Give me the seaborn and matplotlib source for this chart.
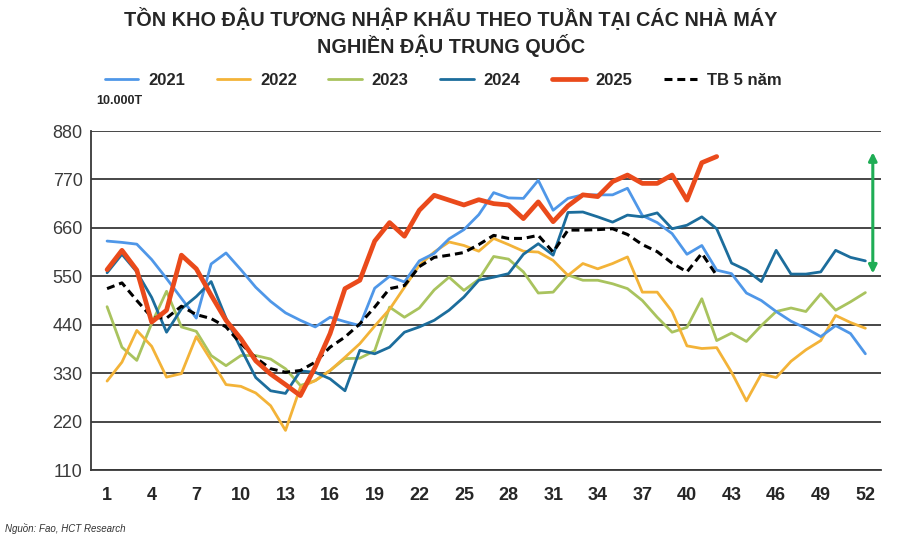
import pandas as pd
import matplotlib
matplotlib.use("Agg")
import matplotlib.pyplot as plt
import seaborn as sns

# tồn kho đậu tương theo tuần (đơn vị 10.000 tấn)
weeks = list(range(1, 53))
y2021 = [630, 627, 623, 588, 545, 500, 455, 578, 603, 565,
         525, 493, 467, 450, 435, 457, 447, 438, 523, 550,
         537, 585, 602, 635, 656, 690, 740, 728, 727, 768,
         700, 727, 735, 735, 735, 750, 688, 672, 647, 600,
         620, 564, 556, 512, 495, 470, 448, 432, 413, 438,
         420, 374]
y2022 = [312, 355, 427, 391, 321, 329, 413, 359, 304, 300,
         285, 256, 200, 298, 313, 336, 366, 397, 437, 475,
         525, 575, 605, 628, 620, 607, 636, 622, 607, 605,
         586, 552, 579, 567, 579, 594, 514, 514, 470, 392,
         386, 388, 332, 267, 328, 320, 357, 383, 404, 461,
         445, 432]
y2023 = [481, 389, 359, 443, 516, 435, 425, 370, 347, 370,
         370, 362, 340, 302, 313, 336, 363, 364, 381, 480,
         457, 478, 519, 548, 518, 543, 595, 589, 560, 512,
         514, 553, 541, 541, 533, 522, 495, 457, 423, 434,
         499, 404, 421, 402, 438, 470, 478, 470, 510, 473,
         492, 513]
y2024 = [558, 600, 560, 502, 423, 476, 504, 538, 455, 386,
         320, 290, 284, 335, 332, 317, 290, 382, 374, 389,
         423, 435, 450, 473, 503, 541, 548, 556, 600, 624,
         598, 695, 696, 685, 673, 689, 685, 694, 658, 666,
         685, 658, 580, 564, 538, 609, 555, 555, 560, 609,
         593, 585]
y2025 = [565, 609, 564, 446, 473, 598, 567, 507, 450, 408,
         358, 328, 304, 279, 344, 420, 522, 541, 630, 672,
         641, 700, 734, 723, 712, 724, 715, 712, 681, 719,
         674, 710, 735, 731, 765, 780, 761, 761, 780, 723,
         808, 822]
tb5 = [522, 535, 495, 457, 455, 482, 463, 454, 435, 397,
       365, 340, 332, 336, 355, 389, 412, 442, 480, 522,
       529, 572, 593, 598, 604, 622, 643, 636, 636, 643,
       605, 655, 655, 656, 658, 645, 622, 606, 580, 560,
       602, 552]

y_ticks = [110, 220, 330, 440, 550, 660, 770, 880]
x_ticks = list(range(1, 53, 3))
arrow_week = 52.5
arrow_range = (550, 838)

title = "TỒN KHO ĐẬU TƯƠNG NHẬP KHẨU THEO TUẦN TẠI CÁC NHÀ MÁY\nNGHIỀN ĐẬU TRUNG QUỐC"

sns.set_theme(style="white")
plt.rcParams['font.family'] = ['Liberation Sans', 'DejaVu Sans']

fig = plt.figure(figsize=(9.02, 5.4), dpi=100)
ax = fig.add_axes([0.1009, 0.1296, 0.8758, 0.6278])

series = [
    ("2023", y2023, "#a9c35e", 2.0, "-"),
    ("2022", y2022, "#f3b338", 2.0, "-"),
    ("2021", y2021, "#4f97e8", 2.0, "-"),
    ("2024", y2024, "#1c6d9c", 2.0, "-"),
    ("TB 5 năm", tb5, "black", 2.2, (0, (2.6, 1.6))),
    ("2025", y2025, "#ea4a1b", 3.4, "-"),
]
for name, vals, color, lw, ls in series:
    df = pd.DataFrame({"tuan": weeks[:len(vals)], "ton_kho": vals})
    sns.lineplot(data=df, x="tuan", y="ton_kho", color=color, linewidth=lw,
                 linestyle=ls, label=name, ax=ax, zorder=3)

ax.set_xlim(-0.08, 53.05)
ax.set_ylim(110, 880)
ax.set_xticks(x_ticks)
ax.set_yticks(y_ticks)
ax.set_xlabel("")
ax.set_ylabel("")
ax.yaxis.grid(True, color="#383838", linewidth=1.3, zorder=1)
ax.xaxis.grid(False)
for s in ["top", "right"]:
    ax.spines[s].set_visible(False)
for s in ["left", "bottom"]:
    ax.spines[s].set_color("#383838")
    ax.spines[s].set_linewidth(1.3)
ax.tick_params(axis="x", direction="out", length=4, width=1, color="#383838",
               labelsize=13, pad=8)
ax.tick_params(axis="y", direction="out", length=4, width=1, color="#383838",
               labelsize=13, labelcolor="#3a3a3a", pad=2)
for t in ax.get_xticklabels():
    t.set_fontweight("bold")

ax.annotate("", xy=(arrow_week, arrow_range[1]), xytext=(arrow_week, arrow_range[0]),
            arrowprops=dict(arrowstyle="<|-|>", color="#1fad55", lw=2.2, mutation_scale=12),
            annotation_clip=False)

order = ["2021", "2022", "2023", "2024", "2025", "TB 5 năm"]
handles, labels = ax.get_legend_handles_labels()
hmap = dict(zip(labels, handles))
ax.legend([hmap[k] for k in order], order, loc="center", bbox_to_anchor=(0.446, 1.15),
          ncol=6, frameon=False, handlelength=2.0, columnspacing=1.9, handletextpad=0.6,
          prop={"weight": "bold", "size": 12})

fig.text(0.5, 0.988, title, ha="center", va="top", fontsize=14.3, fontweight="bold",
         linespacing=1.25)
fig.text(0.107, 0.813, "10.000T", fontsize=9, fontweight="bold", ha="left", va="center")
fig.text(0.006, 0.012, "Nguồn: Fao, HCT Research", fontsize=7, style="italic",
         color="#333333", ha="left", va="bottom")

fig.savefig("out.png", dpi=100)
